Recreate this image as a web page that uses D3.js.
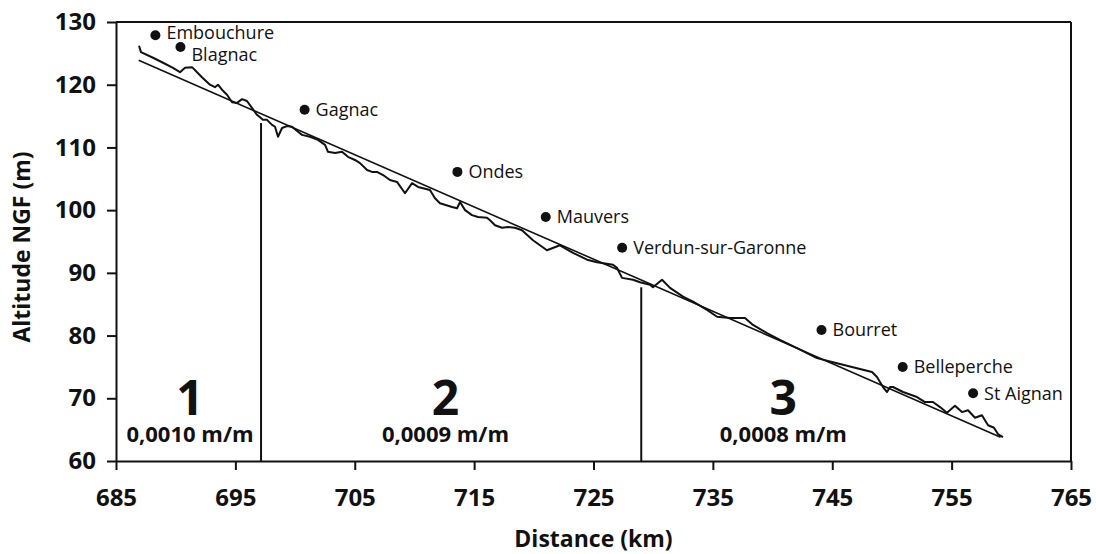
<!DOCTYPE html>
<head>
   <meta charset="utf-8">
   <script src="https://d3js.org/d3.v7.min.js"></script>
   <style>
   body { margin: 0; background: #fff; }
   text { font-family: "Open Sans", sans-serif; fill: #111; }
   .axis text { font-size: 24px; font-weight: 700; }
   .axis path, .axis line { stroke: #111; stroke-width: 2px; }
   text.axisTitle { font-size: 23px; font-weight: 700; }
   text.station { font-size: 18px; }
   text.segNum { font-size: 48px; font-weight: 700; }
   text.segSlope { font-size: 22px; font-weight: 700; }
   </style>
</head>
<body>
<script>
// long profile, distance (km) / altitude NGF (m)
const profileDist = [686.93,687.09,688.10,688.94,689.77,690.36,690.78,691.37,691.79,692.20,
  692.87,693.29,693.54,693.88,694.30,694.72,695.14,695.56,695.97,696.39,696.81,697.31,697.65,
  698.07,698.32,698.57,698.91,699.32,699.74,700.25,700.58,701.25,701.92,702.51,702.76,703.35,
  703.93,704.43,705.02,705.44,706.03,706.45,706.86,707.37,707.95,708.54,709.21,709.80,710.30,
  710.72,711.30,711.72,712.14,713.15,713.57,713.82,714.24,714.82,715.32,716.08,716.33,716.75,
  717.34,717.84,718.42,719.01,719.93,721.10,722.19,723.28,724.46,725.29,726.63,726.97,727.39,
  728.31,728.90,729.73,729.98,730.74,731.41,732.50,733.34,734.51,735.35,736.43,737.69,738.36,
  739.53,740.62,742.05,743.72,745.40,747.07,748.33,748.75,749.25,749.59,749.84,750.09,750.93,
  752.10,752.77,753.44,754.03,754.61,755.28,755.87,756.37,756.96,757.54,758.05,758.55,758.88,759.30];
const profileAlt = [126.2,125.2,124.3,123.5,122.7,122.0,122.7,122.8,122.0,121.2,
  120.0,119.6,120.0,119.2,118.4,117.2,117.1,117.7,117.4,116.3,115.2,114.4,114.4,
  113.6,113.3,111.7,113.1,113.4,113.3,112.5,112.0,111.7,111.2,110.4,109.3,109.1,
  109.3,108.5,108.0,107.5,106.4,106.1,106.1,105.6,104.8,104.5,102.7,104.3,103.7,
  103.5,103.2,101.9,101.1,100.5,100.3,101.3,100.0,99.2,98.9,98.8,98.4,97.6,
  97.2,97.3,97.2,96.8,95.2,93.6,94.4,93.2,92.1,91.7,91.3,90.8,89.2,
  88.9,88.5,88.1,87.7,88.9,87.6,86.2,85.4,84.1,83.0,82.8,82.8,81.7,
  80.4,79.3,78.0,76.4,75.6,74.8,74.2,73.4,71.8,71.0,71.8,71.8,71.0,
  70.2,69.4,69.4,68.6,67.7,68.8,67.8,68.1,66.9,67.3,65.7,65.3,64.3,63.8];

// linear trend (end points)
const trendDist = [686.9, 759.1];
const trendAlt = [123.9, 63.8];

// reach boundaries
const boundDist = [697.15, 729.0];
const boundTop = [113.9, 87.7];

// reaches
const segNames = ["1", "2", "3"];
const segSlopes = ["0,0010 m/m", "0,0009 m/m", "0,0008 m/m"];
const segDist = [691.2, 712.6, 740.9];

// place names
const stationNames = ["Embouchure","Blagnac","Gagnac","Ondes","Mauvers","Verdun-sur-Garonne","Bourret","Belleperche","St Aignan"];
const stationDist = [688.3, 690.4, 700.8, 713.6, 721.0, 727.4, 744.1, 750.9, 756.8];
const stationAlt = [127.9, 126.0, 116.0, 106.1, 98.9, 94.0, 80.9, 75.0, 70.8];

const xTicks = [685, 695, 705, 715, 725, 735, 745, 755, 765];
const yTicks = [60, 70, 80, 90, 100, 110, 120, 130];

const W = 1096, H = 554;
const margin = {top: 22, right: 25, bottom: 93, left: 116};
const width = W - margin.left - margin.right;
const height = H - margin.top - margin.bottom;

const svg = d3.select("body").append("svg")
   .attr("width", W)
   .attr("height", H);

const g = svg.append("g")
   .attr("transform", `translate(${margin.left},${margin.top})`);

const x = d3.scaleLinear().domain([685, 765]).range([0, width]);
const y = d3.scaleLinear().domain([60, 130]).range([height, 0]);

// frame top + right
g.append("line").attr("x1", 0).attr("x2", width).attr("y1", 0).attr("y2", 0)
   .attr("stroke", "#111").attr("stroke-width", 2);
g.append("line").attr("x1", width).attr("x2", width).attr("y1", 0).attr("y2", height)
   .attr("stroke", "#111").attr("stroke-width", 2);

g.append("g")
   .attr("class", "axis")
   .attr("transform", `translate(0,${height})`)
   .call(d3.axisBottom(x).tickValues(xTicks).tickSize(9).tickPadding(19).tickSizeOuter(0).tickFormat(d3.format("d")));

g.append("g")
   .attr("class", "axis")
   .call(d3.axisLeft(y).tickValues(yTicks).tickSize(9).tickPadding(11).tickSizeOuter(0).tickFormat(d3.format("d")));

// boundaries
g.selectAll("line.bound")
   .data(boundDist)
   .join("line")
   .attr("class", "bound")
   .attr("x1", d => x(d)).attr("x2", d => x(d))
   .attr("y1", (d, i) => y(boundTop[i])).attr("y2", height)
   .attr("stroke", "#111").attr("stroke-width", 2);

const line = d3.line().x(d => x(d[0])).y(d => y(d[1]));

g.append("path")
   .datum(trendDist.map((d, i) => [d, trendAlt[i]]))
   .attr("d", line)
   .attr("fill", "none")
   .attr("stroke", "#111")
   .attr("stroke-width", 1.6);

g.append("path")
   .datum(profileDist.map((d, i) => [d, profileAlt[i]]))
   .attr("d", line)
   .attr("fill", "none")
   .attr("stroke", "#111")
   .attr("stroke-width", 2)
   .attr("stroke-linejoin", "round");

// stations
const st = g.selectAll("g.st")
   .data(stationNames)
   .join("g")
   .attr("class", "st")
   .attr("transform", (d, i) => `translate(${x(stationDist[i])},${y(stationAlt[i])})`);
st.append("circle").attr("r", 5).attr("fill", "#111");
st.append("text")
   .attr("class", "station")
   .attr("x", 11)
   .attr("y", d => d === "Blagnac" ? 8 : (d === "Embouchure" ? -2 : 0))
   .attr("dy", "0.35em")
   .text(d => d);

// reach labels
g.selectAll("text.segNum")
   .data(segNames)
   .join("text")
   .attr("class", "segNum")
   .attr("x", (d, i) => x(segDist[i]))
   .attr("y", height - 46)
   .attr("text-anchor", "middle")
   .text(d => d);

g.selectAll("text.segSlope")
   .data(segSlopes)
   .join("text")
   .attr("class", "segSlope")
   .attr("x", (d, i) => x(segDist[i]))
   .attr("y", height - 19)
   .attr("text-anchor", "middle")
   .text(d => d);

// axis titles
svg.append("text")
   .attr("class", "axisTitle")
   .attr("x", margin.left + width / 2)
   .attr("y", 547)
   .attr("text-anchor", "middle")
   .text("Distance (km)");

svg.append("text")
   .attr("class", "axisTitle")
   .attr("transform", "translate(30,247) rotate(-90)")
   .attr("text-anchor", "middle")
   .text("Altitude NGF (m)");
</script>
</body>
